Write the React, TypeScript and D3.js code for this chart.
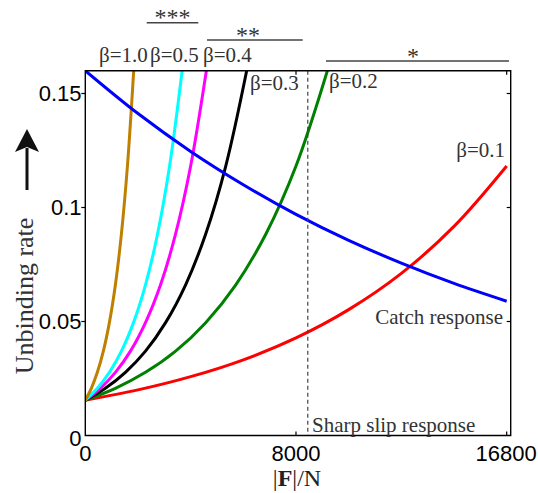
import React from "react";
import * as d3 from "d3";

// Force |F| (N) sample points and unbinding-rate values
const catchF = [0, 2100, 4200, 6300, 8400, 10500, 12600, 14700, 16800];
const catchRate = [0.16, 0.1412, 0.1246, 0.11, 0.097, 0.0856, 0.0756, 0.0667, 0.0589];

const beta01F = [0, 2100, 4200, 6300, 8400, 10500, 12600, 14700, 16800];
const beta01Rate = [0.0155, 0.02, 0.0258, 0.0332, 0.0428, 0.0552, 0.0711, 0.0917, 0.1182];

const beta02F = [0, 1200, 2400, 3600, 4800, 6000, 7200, 8400, 9660];
const beta02Rate = [0.0155, 0.0207, 0.0277, 0.037, 0.0495, 0.0661, 0.0884, 0.1182, 0.1603];

const beta03F = [0, 800, 1600, 2400, 3200, 4000, 4800, 5600, 6440];
const beta03Rate = [0.0155, 0.0207, 0.0277, 0.037, 0.0495, 0.0661, 0.0884, 0.1182, 0.1603];

const beta04F = [0, 600, 1200, 1800, 2400, 3000, 3600, 4200, 4830];
const beta04Rate = [0.0155, 0.0207, 0.0277, 0.037, 0.0495, 0.0661, 0.0884, 0.1182, 0.1603];

const beta05F = [0, 480, 960, 1440, 1920, 2400, 2880, 3360, 3864];
const beta05Rate = [0.0155, 0.0207, 0.0277, 0.037, 0.0495, 0.0661, 0.0884, 0.1182, 0.1603];

const beta10F = [0, 240, 480, 720, 960, 1200, 1440, 1680, 1932];
const beta10Rate = [0.0155, 0.0207, 0.0277, 0.037, 0.0495, 0.0661, 0.0884, 0.1182, 0.1603];

const sharpSlipF = 8870;

const xTickValues = [0, 8400, 16800];
const xTickLabels = ["0", "8000", "16800"];
const yTickValues = [0, 0.05, 0.1, 0.15];
const yTickLabels = ["0", "0.05", "0.1", "0.15"];

const series = [
  { F: beta01F, r: beta01Rate, color: "#ff0000" },
  { F: beta02F, r: beta02Rate, color: "#008000" },
  { F: beta03F, r: beta03Rate, color: "#000000" },
  { F: beta04F, r: beta04Rate, color: "#ff00ff" },
  { F: beta05F, r: beta05Rate, color: "#00ffff" },
  { F: beta10F, r: beta10Rate, color: "#bf7f00" },
  { F: catchF, r: catchRate, color: "#0000ff" },
];

const W = 538;
const H = 493;
const L = 85.3, R = 510.7, T = 70.7, B = 435.5;

export default function App() {
  const x = d3.scaleLinear().domain([0, 16960]).range([L, R]);
  const y = d3.scaleLinear().domain([0, 0.16]).range([B, T]);
  const line = d3
    .line<[number, number]>()
    .x((d) => x(d[0]))
    .y((d) => y(d[1]))
    .curve(d3.curveCatmullRom.alpha(0.5));

  const serif = "'Liberation Serif', 'Times New Roman', serif";
  const sans = "'Liberation Sans', Arial, sans-serif";
  const ann = "#333";

  return (
    <svg
      width={W}
      height={H}
      style={{ position: "absolute", left: 0, top: 0, background: "#fff" }}
    >
      <defs>
        <clipPath id="plotclip">
          <rect x={L} y={T} width={R - L} height={B - T} />
        </clipPath>
      </defs>

      {/* curves */}
      <g clipPath="url(#plotclip)">
        {series.map((s, i) => (
          <path
            key={i}
            d={line(s.F.map((f, j) => [f, s.r[j]] as [number, number])) || ""}
            fill="none"
            stroke={s.color}
            strokeWidth={3}
          />
        ))}
      </g>

      {/* sharp slip dashed line */}
      <line
        x1={x(sharpSlipF)}
        x2={x(sharpSlipF)}
        y1={T}
        y2={B}
        stroke="#444"
        strokeWidth={1.2}
        strokeDasharray="4,3"
      />

      {/* frame */}
      <path
        d={`M${L},${T}H${R}V${B}H${L}Z`}
        fill="none"
        stroke="#000"
        strokeWidth={1.4}
      />

      {/* y ticks */}
      {yTickValues.map((v, i) => (
        <g key={"yt" + i}>
          {v > 0 && (
            <>
              <line x1={L - 4} x2={L} y1={y(v)} y2={y(v)} stroke="#000" strokeWidth={1.2} />
              <line x1={R - 4} x2={R} y1={y(v)} y2={y(v)} stroke="#000" strokeWidth={1.2} />
            </>
          )}
          <text
            x={81.5}
            y={y(v) + (v === 0 ? 3 : 0)}
            dy="0.36em"
            textAnchor="end"
            fontFamily={sans}
            fontSize={22}
            fill="#000"
          >
            {yTickLabels[i]}
          </text>
        </g>
      ))}

      {/* x ticks */}
      {xTickValues.map((v, i) => (
        <g key={"xt" + i}>
          {v > 0 && (
            <>
              <line x1={x(v)} x2={x(v)} y1={B} y2={B - 4} stroke="#000" strokeWidth={1.2} />
              <line x1={x(v)} x2={x(v)} y1={T} y2={T + 4} stroke="#000" strokeWidth={1.2} />
            </>
          )}
          <text
            x={x(v) + (i === 2 ? -0.5 : 0)}
            y={461}
            textAnchor="middle"
            fontFamily={sans}
            fontSize={22}
            fill="#000"
          >
            {xTickLabels[i]}
          </text>
        </g>
      ))}

      {/* axis labels */}
      <text
        x={297}
        y={486}
        textAnchor="middle"
        fontFamily={serif}
        fontSize={24}
        fill="#222"
      >
        |<tspan fontWeight="bold">F</tspan>|/N
      </text>
      <text
        transform="translate(33,296) rotate(-90)"
        textAnchor="middle"
        fontFamily={serif}
        fontSize={26}
        fill="#333"
      >
        Unbinding rate
      </text>
      {/* arrow */}
      <line x1={27} x2={27} y1={190} y2={148} stroke="#111" strokeWidth={3} />
      <path d="M27,129 L39,152 L27,147 L15,152 Z" fill="#111" />

      {/* beta labels */}
      <g fontFamily={serif} fontSize={21} fill={ann}>
        <text x={99} y={62}>β=1.0</text>
        <text x={150} y={62}>β=0.5</text>
        <text x={203} y={62}>β=0.4</text>
        <text x={250} y={90}>β=0.3</text>
        <text x={329} y={88}>β=0.2</text>
        <text x={505} y={157} textAnchor="end">β=0.1</text>
        <text x={503} y={324} textAnchor="end">Catch response</text>
        <text x={312} y={432}>Sharp slip response</text>
      </g>

      {/* significance bars */}
      <g stroke="#444" strokeWidth={1.5}>
        <line x1={146.7} x2={198.3} y1={22.7} y2={22.7} />
        <line x1={207} x2={302.7} y1={40} y2={40} />
        <line x1={326} x2={509} y1={61} y2={61} />
      </g>
      <g fontFamily={serif} fontSize={24} fill={ann} textAnchor="middle">
        <text x={172.5} y={25}>***</text>
        <text x={248} y={43}>**</text>
        <text x={413} y={64}>*</text>
      </g>
    </svg>
  );
}
